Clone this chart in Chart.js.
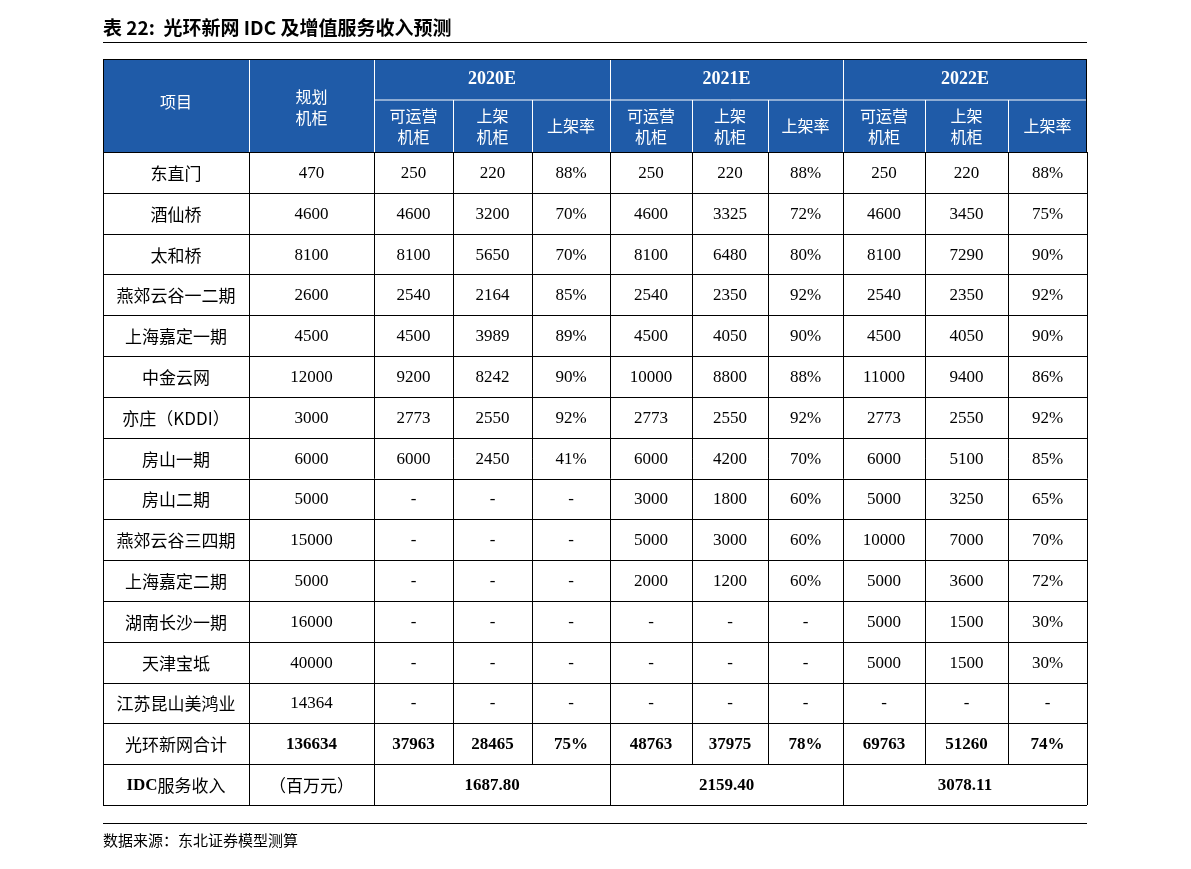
<!DOCTYPE html>
<html lang="zh">
<head>
<meta charset="UTF-8">
<script src="https://cdn.jsdelivr.net/npm/chart.js@4/dist/chart.umd.min.js"></script>
<style>body{margin:0;background:#fff}</style>
</head>
<body>
<canvas id="tabella" width="1191" height="869"></canvas>
<script>
// dati della tabella
var titolo = '表 22:  光环新网 IDC 及增值服务收入预测';
var fonte = '数据来源：东北证券模型测算';
var anni = ['2020E', '2021E', '2022E'];
var sottoTitoli = [['可运营', '机柜'], ['上架', '机柜'], ['上架率']];
var progetti = ['东直门', '酒仙桥', '太和桥', '燕郊云谷一二期', '上海嘉定一期', '中金云网', '亦庄（KDDI）',
  '房山一期', '房山二期', '燕郊云谷三四期', '上海嘉定二期', '湖南长沙一期', '天津宝坻', '江苏昆山美鸿业'];
var guihua = ['470', '4600', '8100', '2600', '4500', '12000', '3000', '6000', '5000', '15000', '5000', '16000', '40000', '14364'];
var y2020 = [['250','220','88%'],['4600','3200','70%'],['8100','5650','70%'],['2540','2164','85%'],['4500','3989','89%'],
  ['9200','8242','90%'],['2773','2550','92%'],['6000','2450','41%'],['-','-','-'],['-','-','-'],['-','-','-'],['-','-','-'],['-','-','-'],['-','-','-']];
var y2021 = [['250','220','88%'],['4600','3325','72%'],['8100','6480','80%'],['2540','2350','92%'],['4500','4050','90%'],
  ['10000','8800','88%'],['2773','2550','92%'],['6000','4200','70%'],['3000','1800','60%'],['5000','3000','60%'],['2000','1200','60%'],['-','-','-'],['-','-','-'],['-','-','-']];
var y2022 = [['250','220','88%'],['4600','3450','75%'],['8100','7290','90%'],['2540','2350','92%'],['4500','4050','90%'],
  ['11000','9400','86%'],['2773','2550','92%'],['6000','5100','85%'],['5000','3250','65%'],['10000','7000','70%'],['5000','3600','72%'],['5000','1500','30%'],['5000','1500','30%'],['-','-','-']];
var totale = ['136634', '37963', '28465', '75%', '48763', '37975', '78%', '69763', '51260', '74%'];
var ricavi = ['1687.80', '2159.40', '3078.11'];

// geometria (unità della scala = pixel della tabella)
var colonne = [0, 146, 271, 350, 429, 507, 589, 665, 740, 822, 905, 984];
var righe = [0, 41, 93];
for (var i = 1; i <= 16; i++) righe.push(93 + i * 40.8);

var CJK = '"Noto Sans CJK SC", sans-serif';
var SERIF = '"Liberation Serif", "DejaVu Serif", serif';
var BLU = '#1f5ba8';

var disegnaTabella = {
  id: 'disegnaTabella',
  afterDraw: function(chart) {
    var ctx = chart.ctx, sx = chart.scales.x, sy = chart.scales.y;
    var X = function(c){ return sx.getPixelForValue(colonne[c]); };
    var Y = function(r){ return sy.getPixelForValue(righe[r]); };
    function testo(t, cx, cy, font, col) {
      ctx.font = font; ctx.fillStyle = col; ctx.textAlign = 'center'; ctx.textBaseline = 'middle';
      ctx.fillText(t, cx, cy);
    }
    function misto(t, cx, cy, bold, col) {
      var f = /^[0-9.%\-]+$/.test(t) ? SERIF : CJK;
      testo(t, cx, cy, (bold ? 'bold ' : '') + '17px ' + f, col);
    }
    ctx.save();
    // titolo
    ctx.font = 'bold 19px ' + CJK; ctx.fillStyle = '#000'; ctx.textAlign = 'left'; ctx.textBaseline = 'middle';
    ctx.fillText(titolo, 103, 28);
    ctx.fillStyle = '#000'; ctx.fillRect(103, 42, 984, 1);
    // intestazione
    ctx.fillStyle = BLU; ctx.fillRect(X(0), Y(0), X(11) - X(0), Y(2) - Y(0));
    ctx.strokeStyle = '#fff'; ctx.lineWidth = 1;
    ctx.beginPath();
    ctx.moveTo(X(2), Y(1)); ctx.lineTo(X(11), Y(1));
    for (var c = 1; c < 11; c++) {
      var top = (c === 1 || c === 2 || c === 5 || c === 8) ? Y(0) : Y(1);
      ctx.moveTo(X(c) + .5, top); ctx.lineTo(X(c) + .5, Y(2));
    }
    ctx.stroke();
    testo('项目', (X(0) + X(1)) / 2, (Y(0) + Y(2)) / 2 - 4, '16px ' + CJK, '#fff');
    testo('规划', (X(1) + X(2)) / 2, Y(0) + 38, '16px ' + CJK, '#fff');
    testo('机柜', (X(1) + X(2)) / 2, Y(0) + 59, '16px ' + CJK, '#fff');
    anni.forEach(function(a, k) {
      testo(a, (X(2 + 3 * k) + X(5 + 3 * k)) / 2, (Y(0) + Y(1)) / 2, 'bold 18px ' + SERIF, '#fff');
      sottoTitoli.forEach(function(s, j) {
        var cx = (X(2 + 3 * k + j) + X(3 + 3 * k + j)) / 2;
        if (s.length === 2) {
          testo(s[0], cx, Y(1) + 16, '16px ' + CJK, '#fff');
          testo(s[1], cx, Y(1) + 37, '16px ' + CJK, '#fff');
        } else testo(s[0], cx, (Y(1) + Y(2)) / 2, '16px ' + CJK, '#fff');
      });
    });
    // corpo
    var anniDati = [y2020, y2021, y2022];
    progetti.forEach(function(p, r) {
      var cy = (Y(2 + r) + Y(3 + r)) / 2 + 1;
      misto(p, (X(0) + X(1)) / 2, cy, false, '#000');
      misto(guihua[r], (X(1) + X(2)) / 2, cy, false, '#000');
      anniDati.forEach(function(d, k) {
        d[r].forEach(function(v, j) {
          misto(v, (X(2 + 3 * k + j) + X(3 + 3 * k + j)) / 2, cy, false, '#000');
        });
      });
    });
    var rt = 2 + progetti.length, cyT = (Y(rt) + Y(rt + 1)) / 2 + 1;
    misto('光环新网合计', (X(0) + X(1)) / 2, cyT, false, '#000');
    totale.forEach(function(v, j) { misto(v, (X(1 + j) + X(2 + j)) / 2, cyT, true, '#000'); });
    var cyI = (Y(rt + 1) + Y(rt + 2)) / 2 + 1;
    ctx.font = 'bold 17px ' + SERIF; var w1 = ctx.measureText('IDC').width;
    ctx.font = '17px ' + CJK; var w2 = ctx.measureText('服务收入').width;
    var sx0 = (X(0) + X(1)) / 2 - (w1 + w2) / 2;
    ctx.textAlign = 'left'; ctx.fillStyle = '#000';
    ctx.font = 'bold 17px ' + SERIF; ctx.fillText('IDC', sx0, cyI);
    ctx.font = '17px ' + CJK; ctx.fillText('服务收入', sx0 + w1, cyI);
    misto('（百万元）', (X(1) + X(2)) / 2, cyI, false, '#000');
    ricavi.forEach(function(v, k) { misto(v, (X(2 + 3 * k) + X(5 + 3 * k)) / 2, cyI, true, '#000'); });
    // linee nere
    ctx.strokeStyle = '#000'; ctx.lineWidth = 1; ctx.beginPath();
    for (var r = 2; r < righe.length; r++) { var yy = Math.round(Y(r)) + .5; ctx.moveTo(X(0), yy); ctx.lineTo(X(11), yy); }
    for (var c2 = 0; c2 <= 11; c2++) {
      var xx = Math.round(X(c2)) + .5;
      var bottom = (c2 === 0 || c2 === 1 || c2 === 2 || c2 === 5 || c2 === 8 || c2 === 11) ? Y(righe.length - 1) : Y(righe.length - 2);
      ctx.moveTo(xx, Y(2)); ctx.lineTo(xx, bottom);
    }
    ctx.moveTo(X(0), Y(0) + .5); ctx.lineTo(X(11), Y(0) + .5);
    ctx.moveTo(X(0) + .5, Y(0)); ctx.lineTo(X(0) + .5, Y(2));
    ctx.moveTo(X(11) - .5, Y(0)); ctx.lineTo(X(11) - .5, Y(2));
    ctx.stroke();
    // fonte
    ctx.fillRect(103, 823, 984, 1);
    ctx.font = '15px ' + CJK; ctx.textAlign = 'left'; ctx.fillText(fonte, 103, 840);
    ctx.restore();
  }
};

new Chart('tabella', {
  type: 'scatter',
  data: { datasets: [{ data: [] }] },
  options: {
    responsive: false, animation: false,
    layout: { padding: { left: 103, right: 104, top: 59, bottom: 64 } },
    plugins: { legend: { display: false }, tooltip: { enabled: false } },
    scales: {
      x: { type: 'linear', display: false, min: 0, max: colonne[colonne.length - 1] },
      y: { type: 'linear', display: false, reverse: true, min: 0, max: righe[righe.length - 1] }
    }
  },
  plugins: [disegnaTabella]
});
</script>
</body>
</html>
